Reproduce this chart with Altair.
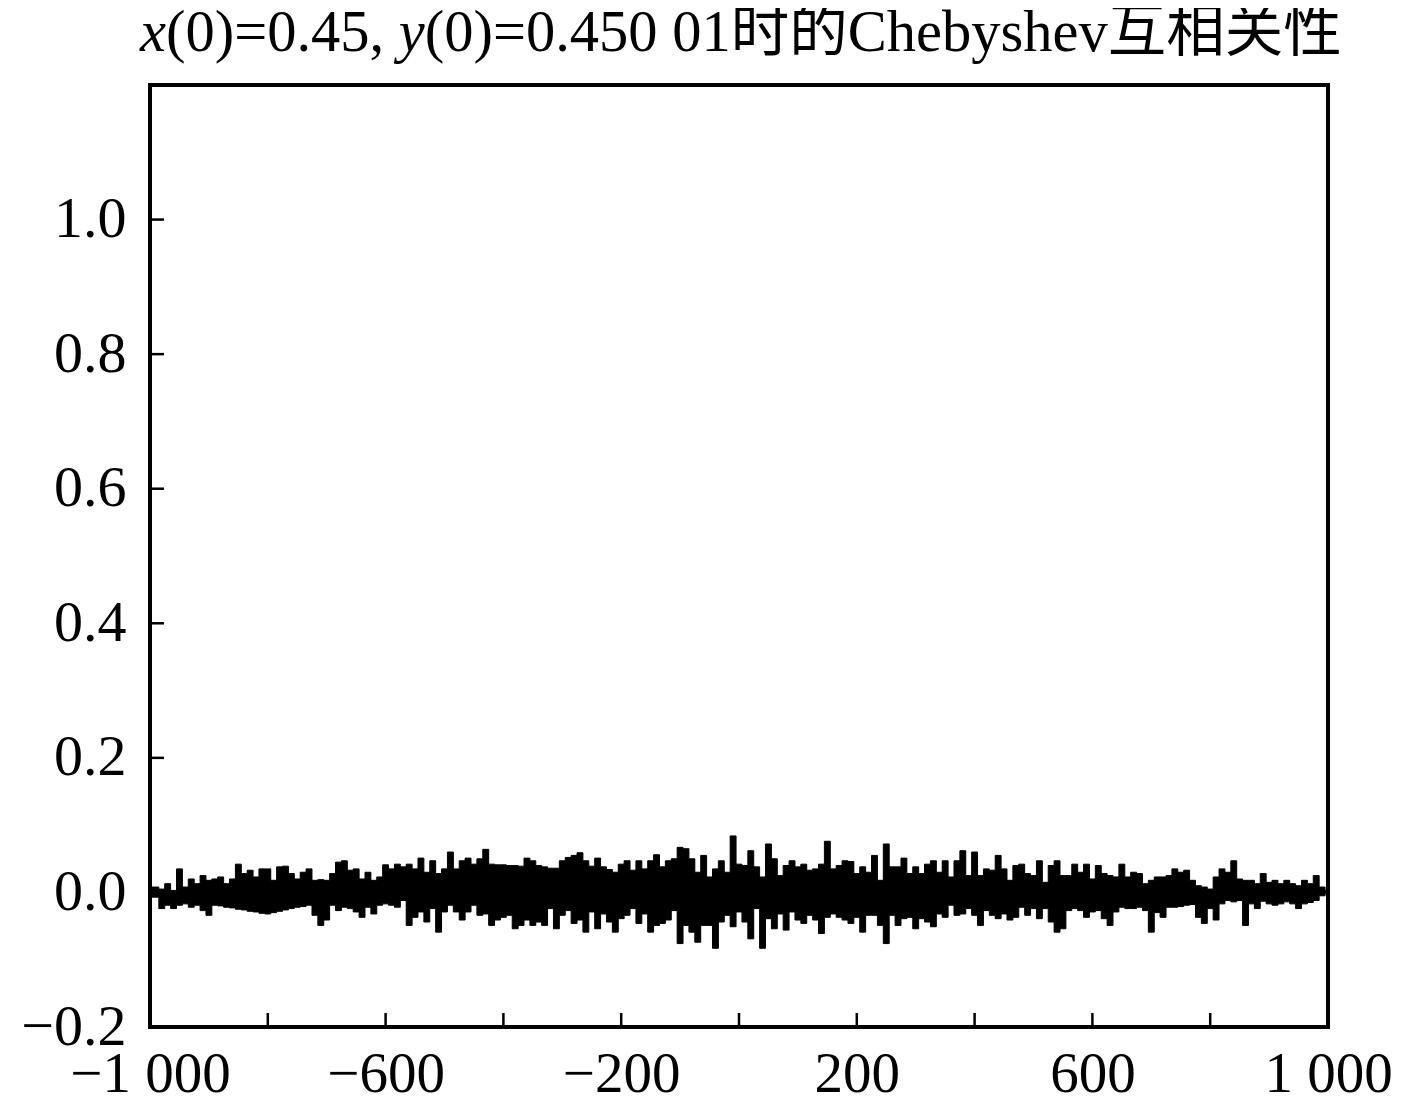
import altair as alt
import pandas as pd

# lag grid (every 10 lags) and the upper / lower envelope of the correlation
lags = list(range(-1000, 1001, 10))
upper = [
    0.008, 0.008, 0.005, 0.013, 0.003, 0.035, 0.008, 0.020, 0.013, 0.025,
    0.018, 0.020, 0.023, 0.013, 0.020, 0.042, 0.028, 0.033, 0.023, 0.035,
    0.035, 0.018, 0.038, 0.039, 0.028, 0.020, 0.030, 0.035, 0.018, 0.019,
    0.018, 0.028, 0.045, 0.047, 0.033, 0.035, 0.020, 0.030, 0.018, 0.023,
    0.041, 0.035, 0.042, 0.038, 0.042, 0.035, 0.051, 0.030, 0.047, 0.028,
    0.035, 0.060, 0.035, 0.047, 0.051, 0.042, 0.050, 0.064, 0.042, 0.041,
    0.041, 0.040, 0.040, 0.039, 0.051, 0.047, 0.040, 0.038, 0.036, 0.036,
    0.047, 0.052, 0.055, 0.059, 0.047, 0.039, 0.051, 0.038, 0.034, 0.030,
    0.042, 0.047, 0.033, 0.047, 0.035, 0.047, 0.056, 0.038, 0.047, 0.050,
    0.067, 0.065, 0.050, 0.030, 0.055, 0.023, 0.035, 0.047, 0.030, 0.084,
    0.042,
    0.040, 0.062, 0.038, 0.023, 0.072, 0.050, 0.025, 0.040, 0.047, 0.038,
    0.042, 0.033, 0.035, 0.042, 0.076, 0.035, 0.040, 0.047, 0.046, 0.028,
    0.038, 0.030, 0.055, 0.018, 0.072, 0.038, 0.038, 0.051, 0.028, 0.038,
    0.028, 0.042, 0.047, 0.030, 0.047, 0.023, 0.047, 0.062, 0.025, 0.060,
    0.025, 0.035, 0.033, 0.055, 0.035, 0.018, 0.040, 0.042, 0.028, 0.025,
    0.047, 0.015, 0.040, 0.047, 0.025, 0.025, 0.042, 0.030, 0.042, 0.020,
    0.040, 0.028, 0.025, 0.023, 0.042, 0.023, 0.030, 0.028, 0.013, 0.018,
    0.023, 0.023, 0.025, 0.035, 0.030, 0.033, 0.018, 0.010, 0.008, 0.005,
    0.023, 0.035, 0.030, 0.047, 0.020, 0.018, 0.018, 0.013, 0.028, 0.015,
    0.018, 0.013, 0.018, 0.013, 0.010, 0.018, 0.013, 0.025, 0.008, 0.003,
]
lower = [
    -0.007, -0.007, -0.024, -0.019, -0.024, -0.019, -0.017, -0.022, -0.019, -0.027,
    -0.034, -0.019, -0.020, -0.022, -0.023, -0.025, -0.026, -0.028, -0.029, -0.031,
    -0.032, -0.030, -0.028, -0.026, -0.024, -0.022, -0.021, -0.019, -0.034, -0.049,
    -0.041, -0.019, -0.027, -0.022, -0.024, -0.029, -0.037, -0.022, -0.032, -0.019,
    -0.017, -0.019, -0.022, -0.012, -0.049, -0.037, -0.029, -0.044, -0.024, -0.059,
    -0.029, -0.019, -0.029, -0.041, -0.029, -0.019, -0.034, -0.032, -0.049, -0.041,
    -0.037, -0.034, -0.054, -0.049, -0.041, -0.049, -0.044, -0.049, -0.024, -0.054,
    -0.034, -0.027, -0.046, -0.041, -0.059, -0.029, -0.054, -0.032, -0.044, -0.059,
    -0.039, -0.034, -0.024, -0.046, -0.032, -0.059, -0.049, -0.046, -0.041, -0.027,
    -0.076, -0.049, -0.059, -0.074, -0.049, -0.049, -0.083, -0.044, -0.034, -0.051,
    -0.029,
    -0.044, -0.069, -0.024, -0.083, -0.039, -0.054, -0.032, -0.056, -0.029, -0.041,
    -0.046, -0.034, -0.041, -0.061, -0.037, -0.032, -0.037, -0.041, -0.046, -0.037,
    -0.059, -0.034, -0.034, -0.049, -0.076, -0.034, -0.049, -0.039, -0.037, -0.054,
    -0.039, -0.044, -0.051, -0.032, -0.037, -0.019, -0.034, -0.032, -0.024, -0.034,
    -0.049, -0.027, -0.034, -0.039, -0.032, -0.041, -0.037, -0.022, -0.034, -0.024,
    -0.039, -0.024, -0.044, -0.059, -0.054, -0.027, -0.024, -0.027, -0.037, -0.029,
    -0.027, -0.039, -0.049, -0.029, -0.022, -0.024, -0.024, -0.022, -0.027, -0.059,
    -0.030, -0.037, -0.022, -0.022, -0.021, -0.019, -0.018, -0.037, -0.046, -0.024,
    -0.041, -0.017, -0.012, -0.014, -0.012, -0.049, -0.017, -0.024, -0.013, -0.017,
    -0.019, -0.017, -0.014, -0.017, -0.024, -0.017, -0.015, -0.012, -0.005, -0.002,
]

x_label_values = [-1000, -600, -200, 200, 600, 1000]
x_tick_values = [-800, -600, -400, -200, 0, 200, 400, 600, 800]
y_tick_values = [-0.2, 0.0, 0.2, 0.4, 0.6, 0.8, 1.0]

# title pieces: (text, italic?)
title_parts = [
    ("x", True),
    ("(0)=0.45, ", False),
    ("y", True),
    ("(0)=0.450 01时的Chebyshev互相关性", False),
]
# Times-metric advance widths of the pieces that precede others (em units)
title_part_em = [0.444, 3.98, 0.444]

FONT = "Liberation Serif"
CJK = "Liberation Serif, Noto Sans CJK SC"
W, H = 1178, 942
TITLE_SIZE = 58.5
TITLE_LEFT = -10      # px from the plot's left edge
TITLE_BASELINE = -34  # px from the plot's top edge

df = pd.DataFrame({"lag": lags, "upper": upper, "lower": lower})

xscale = alt.Scale(domain=[-1000, 1000], nice=False, zero=False)
yscale = alt.Scale(domain=[-0.2, 1.2], nice=False, zero=False)

x_axis = alt.Axis(
    values=x_label_values,
    labelExpr="replace(format(datum.value, ','), ',', ' ')",
    ticks=False,
    grid=False,
    domain=False,
    title=None,
    labelFont=FONT,
    labelFontSize=57,
    labelColor="black",
    labelPadding=19,
    labelFlush=False,
    labelOverlap=False,
)
y_axis = alt.Axis(
    values=y_tick_values,
    format=".1f",
    ticks=False,
    grid=False,
    domain=False,
    title=None,
    labelFont=FONT,
    labelFontSize=58,
    labelColor="black",
    labelPadding=24,
    labelFlush=False,
    labelOverlap=False,
)

area = alt.Chart(df).mark_area(
    color="black", interpolate="step", stroke="black", strokeWidth=1
).encode(
    x=alt.X("lag:Q", scale=xscale, axis=x_axis),
    y=alt.Y("upper:Q", scale=yscale, axis=y_axis),
    y2="lower:Q",
)

xticks = alt.Chart(pd.DataFrame({"t": x_tick_values})).mark_rule(
    color="black", strokeWidth=2.5
).encode(
    x=alt.X("t:Q", scale=xscale, axis=x_axis),
    y=alt.value(H),
    y2=alt.value(H - 14),
)

yticks = alt.Chart(pd.DataFrame({"v": y_tick_values})).mark_rule(
    color="black", strokeWidth=2.5
).encode(
    y=alt.Y("v:Q", scale=yscale, axis=y_axis),
    x=alt.value(0),
    x2=alt.value(14),
)

title_layers = []
pos = TITLE_LEFT
for i, (txt, italic) in enumerate(title_parts):
    title_layers.append(
        alt.Chart(pd.DataFrame({"t": [txt]})).mark_text(
            align="left",
            baseline="alphabetic",
            font=CJK,
            fontSize=TITLE_SIZE,
            fontStyle="italic" if italic else "normal",
            color="black",
        ).encode(
            text="t:N",
            x=alt.value(pos),
            y=alt.value(TITLE_BASELINE),
        )
    )
    if i < len(title_part_em):
        pos += title_part_em[i] * TITLE_SIZE

chart = (
    alt.layer(area, xticks, yticks, *title_layers)
    .properties(
        width=W,
        height=H,
        autosize=alt.AutoSizeParams(type="none"),
        padding={"left": 142, "top": 77, "right": 70, "bottom": 80},
    )
    .configure(
        background="white",
        view=alt.ViewConfig(stroke="black", strokeWidth=4),
    )
)

chart.save("out.html", embed_options={"renderer": "svg", "actions": False})
